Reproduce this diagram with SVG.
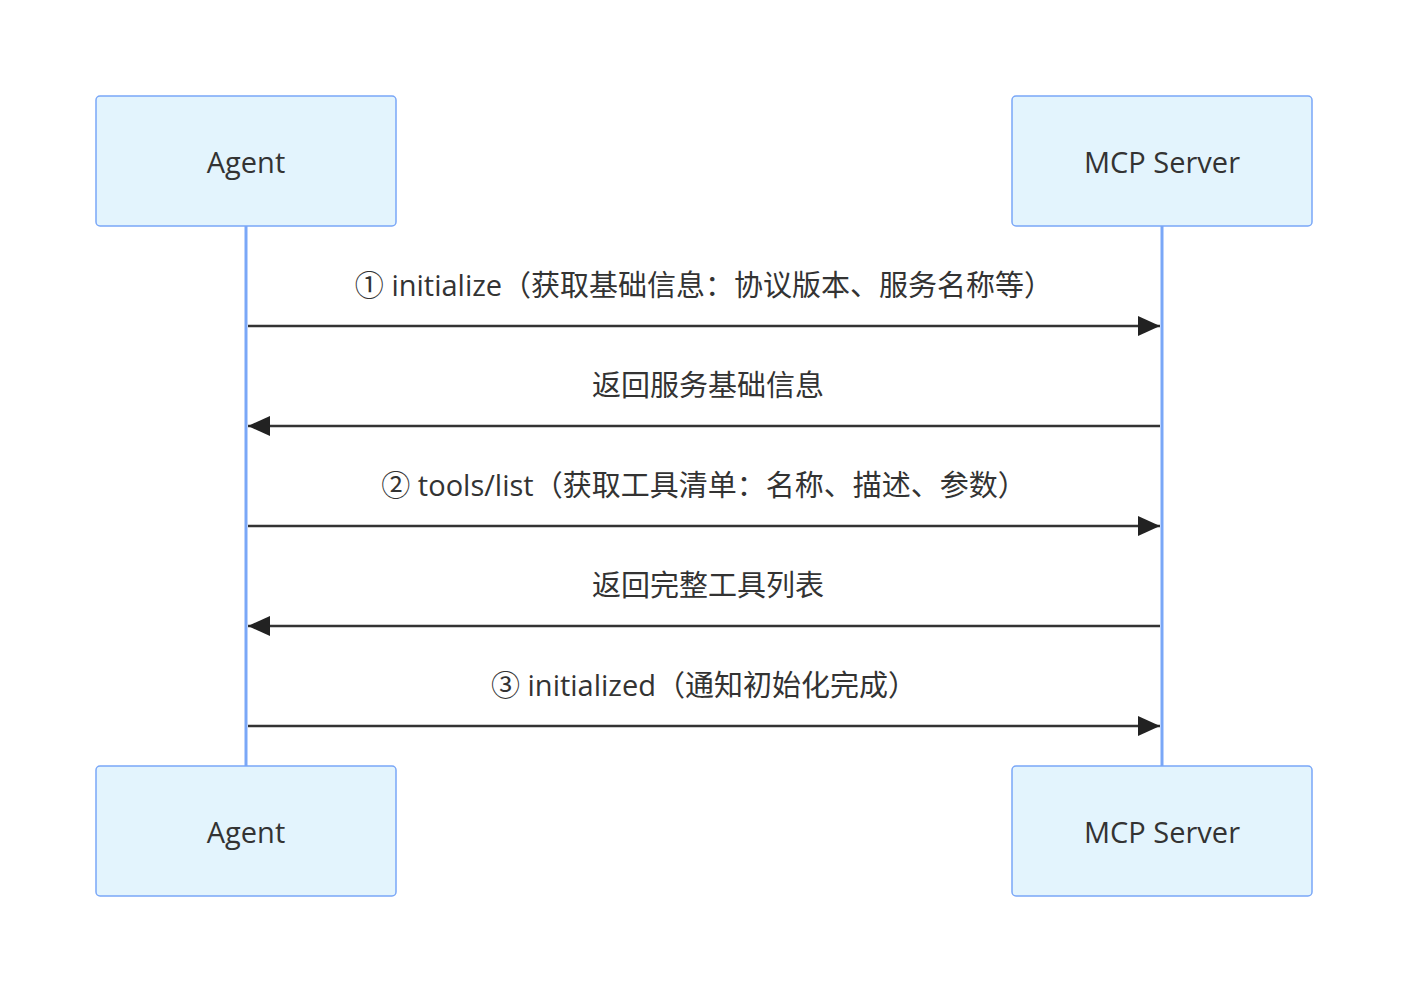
<svg xmlns="http://www.w3.org/2000/svg" width="1408" height="992" viewBox="0 0 1408 992">
<style>
.box{fill:#e3f4fd;stroke:#7aa7f7;stroke-width:1.5}
.life{stroke:#7aa7f7;stroke-width:3}
.t{font-family:"Open Sans","Noto Sans","Noto Sans CJK SC",sans-serif;font-size:29px;fill:#333;text-anchor:middle;dominant-baseline:central}
.m{stroke:#333;stroke-width:2.5;fill:none}
</style>
<defs><marker id="a" viewBox="0 0 12 12" refX="11" refY="6" markerWidth="12" markerHeight="12" markerUnits="userSpaceOnUse" orient="auto"><path d="M0,0L12,6L0,12z" fill="#222"/></marker>
<marker id="ab" viewBox="0 0 24 20" refX="22" refY="10" markerWidth="24" markerHeight="20" markerUnits="userSpaceOnUse" orient="auto-start-reverse"><path d="M0,0L22,10L0,20z" fill="#222"/></marker></defs>
<g id="lifelines"><line class="life" x1="246" y1="226" x2="246" y2="766"/><line class="life" x1="1162" y1="226" x2="1162" y2="766"/></g>
<g id="agent-top"><rect class="box" x="96" y="96" width="300" height="130" rx="4"/><text class="t" x="246" y="161">Agent</text></g>
<g id="server-top"><rect class="box" x="1012" y="96" width="300" height="130" rx="4"/><text class="t" x="1162" y="161">MCP Server</text></g>
<g id="agent-bottom"><rect class="box" x="96" y="766" width="300" height="130" rx="4"/><text class="t" x="246" y="831">Agent</text></g>
<g id="server-bottom"><rect class="box" x="1012" y="766" width="300" height="130" rx="4"/><text class="t" x="1162" y="831">MCP Server</text></g>
<g id="connectors">
<line class="m" x1="248" y1="326" x2="1160" y2="326" marker-end="url(#ab)"/>
<line class="m" x1="1160" y1="426" x2="248" y2="426" marker-end="url(#ab)"/>
<line class="m" x1="248" y1="526" x2="1160" y2="526" marker-end="url(#ab)"/>
<line class="m" x1="1160" y1="626" x2="248" y2="626" marker-end="url(#ab)"/>
<line class="m" x1="248" y1="726" x2="1160" y2="726" marker-end="url(#ab)"/>
<text class="t" x="704" y="284">① initialize（获取基础信息：协议版本、服务名称等）</text>
<text class="t" x="708" y="384">返回服务基础信息</text>
<text class="t" x="704" y="484">② tools/list（获取工具清单：名称、描述、参数）</text>
<text class="t" x="708" y="584">返回完整工具列表</text>
<text class="t" x="704" y="684">③ initialized（通知初始化完成）</text>
</g>
</svg>
